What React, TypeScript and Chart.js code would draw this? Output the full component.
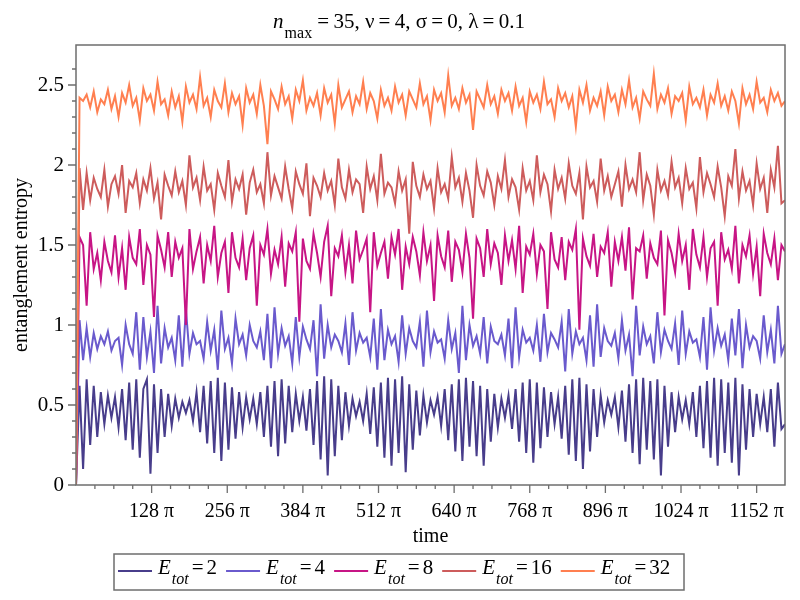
import React, { useEffect, useRef } from "react";
import { Chart, registerables } from "chart.js";

Chart.register(...registerables);

// time axis is in units of pi; samples every TIME_STEP (pi units)
const TIME_STEP = 6;
const X_MIN = 0;
const X_MAX = 1200;
const X_TICK_STEP = 32;
const X_LABELED = [128, 256, 384, 512, 640, 768, 896, 1024, 1152];

const Y_MIN = 0;
const Y_MAX = 2.75;
const Y_TICK_STEP = 0.1;
const Y_LABELED = [0, 0.5, 1, 1.5, 2, 2.5];

const LEVELS = ["2", "4", "8", "16", "32"];
const COLORS = ["#483D8B", "#6A5ACD", "#C71585", "#CD5C5C", "#FF7F50"];

const E2 = [
  0, 0.62, 0.10, 0.66, 0.25, 0.62, 0.30, 0.58, 0.38, 0.56,
  0.42, 0.55, 0.36, 0.60, 0.28, 0.64, 0.22, 0.66, 0.17, 0.60,
  0.66, 0.07, 0.63, 0.20, 0.60, 0.30, 0.57, 0.37, 0.54, 0.42,
  0.52, 0.45, 0.53, 0.40, 0.58, 0.33, 0.62, 0.26, 0.65, 0.20,
  0.67, 0.15, 0.64, 0.22, 0.61, 0.29, 0.58, 0.36, 0.55, 0.41,
  0.54, 0.38, 0.58, 0.30, 0.62, 0.24, 0.65, 0.18, 0.66, 0.26,
  0.62, 0.33, 0.57, 0.40, 0.55, 0.34, 0.60, 0.25, 0.65, 0.16,
  0.68, 0.06, 0.66, 0.18, 0.62, 0.28, 0.58, 0.37, 0.54, 0.43,
  0.52, 0.40, 0.57, 0.32, 0.61, 0.24, 0.64, 0.17, 0.67, 0.12,
  0.66, 0.20, 0.68, 0.08, 0.63, 0.22, 0.59, 0.31, 0.56, 0.39,
  0.53, 0.44, 0.55, 0.37, 0.60, 0.28, 0.63, 0.21, 0.66, 0.15,
  0.67, 0.24, 0.65, 0.18, 0.62, 0.12, 0.60, 0.27, 0.57, 0.36,
  0.54, 0.42, 0.56, 0.35, 0.60, 0.27, 0.64, 0.20, 0.66, 0.14,
  0.64, 0.23, 0.61, 0.30, 0.58, 0.38, 0.55, 0.29, 0.62, 0.19,
  0.66, 0.15, 0.67, 0.10, 0.63, 0.21, 0.60, 0.30, 0.56, 0.39,
  0.53, 0.44, 0.55, 0.36, 0.59, 0.27, 0.63, 0.20, 0.66, 0.13,
  0.67, 0.22, 0.65, 0.16, 0.66, 0.06, 0.62, 0.24, 0.58, 0.33,
  0.55, 0.41, 0.53, 0.38, 0.58, 0.30, 0.62, 0.23, 0.65, 0.17,
  0.67, 0.12, 0.66, 0.20, 0.64, 0.14, 0.67, 0.06, 0.63, 0.22,
  0.60, 0.30, 0.57, 0.38, 0.55, 0.33, 0.60, 0.24, 0.64, 0.35,
  0.38,
];

const E4 = [
  0, 1.03, 0.78, 0.98, 0.80, 0.95, 0.85, 0.93, 0.88, 0.96,
  0.84, 0.90, 0.92, 0.75, 1.00, 0.88, 0.82, 1.08, 0.72, 1.05,
  0.80, 0.96, 0.70, 1.12, 0.76, 0.98, 0.86, 0.92, 0.78, 1.06,
  0.74, 1.10, 0.82, 0.95, 0.88, 0.90, 0.79, 1.02, 0.84, 0.97,
  0.72, 1.09, 0.85, 0.92, 0.76, 1.04, 0.88, 0.94, 0.81, 1.00,
  0.90, 0.86, 0.96, 0.78, 1.07, 0.73, 1.11, 0.82, 0.98, 0.87,
  0.93, 0.76, 1.05, 0.80, 0.99, 0.91, 0.85, 1.03, 0.68, 1.13,
  0.79, 1.00, 0.86, 0.94, 0.90, 0.83, 1.01, 0.75, 1.08, 0.84,
  0.95, 0.89, 0.92, 0.80, 1.04, 0.72, 1.10, 0.78, 0.97, 0.88,
  0.93, 0.77, 1.06, 0.82, 0.98, 0.90, 0.86, 1.02, 0.74, 1.09,
  0.83, 0.96, 0.89, 0.91, 0.79, 1.03, 0.85, 0.95, 0.70, 1.12,
  0.78, 1.00, 0.87, 0.93, 0.82, 1.05, 0.76, 0.99, 0.90, 0.88,
  0.94, 0.81, 1.04, 0.73, 1.11, 0.80, 0.97, 0.89, 0.92, 0.84,
  1.00, 0.77, 1.07, 0.83, 0.95, 0.91, 0.86, 1.02, 0.71, 1.10,
  0.82, 0.96, 0.88, 0.92, 0.78, 1.06, 0.74, 1.13, 0.80, 0.98,
  0.90, 0.87, 0.95, 0.79, 1.03, 0.84, 0.94, 0.68, 1.12, 0.81,
  0.99, 0.88, 0.93, 0.76, 1.08, 0.83, 0.97, 0.90, 0.85, 1.01,
  0.75, 1.09, 0.82, 0.96, 0.89, 0.91, 0.80, 1.05, 0.72, 1.11,
  0.84, 0.98, 0.87, 0.94, 0.78, 1.04, 0.81, 1.10, 0.73, 1.00,
  0.86, 0.93, 0.90, 0.79, 1.06, 0.83, 0.97, 0.76, 1.12, 0.82,
  0.88,
];

const E8 = [
  0, 1.55, 1.50, 1.12, 1.58, 1.35, 1.45, 1.28, 1.52, 1.40,
  1.33, 1.56, 1.30, 1.48, 1.22, 1.55, 1.42, 1.38, 1.60, 1.25,
  1.50, 1.44, 1.05, 1.56, 1.47, 1.36, 1.58, 1.30, 1.52, 1.42,
  1.48, 1.00, 1.60, 1.35, 1.46, 1.55, 1.26, 1.50, 1.40, 1.62,
  1.30, 1.45, 1.52, 1.20, 1.58, 1.42, 1.36, 1.54, 1.28, 1.48,
  1.56, 1.12, 1.50, 1.44, 1.60, 1.32, 1.47, 1.38, 1.55, 1.24,
  1.51, 1.46, 1.58, 1.02, 1.54, 1.40, 1.35, 1.57, 1.45, 1.30,
  1.52, 1.62, 1.18, 1.48, 1.43, 1.56, 1.33, 1.50, 1.26, 1.59,
  1.41, 1.47, 1.54, 1.08, 1.58, 1.37, 1.45, 1.52, 1.29, 1.55,
  1.44, 1.60, 1.22, 1.49, 1.38, 1.55, 1.46, 1.31, 1.58, 1.40,
  1.50, 1.15, 1.56, 1.43, 1.36, 1.59, 1.27, 1.52, 1.47, 1.33,
  1.57, 1.42, 1.04, 1.54, 1.48, 1.30, 1.60, 1.38, 1.51, 1.45,
  1.25, 1.56, 1.40, 1.53, 1.35, 1.62, 1.20, 1.49, 1.44, 1.57,
  1.32, 1.50, 1.46, 1.10, 1.58, 1.41, 1.36, 1.55, 1.28, 1.52,
  1.47, 1.60, 0.97, 1.54, 1.43, 1.37, 1.57, 1.30, 1.49, 1.45,
  1.58, 1.24, 1.52, 1.40, 1.55, 1.34, 1.61, 1.16, 1.48, 1.46,
  1.56, 1.29, 1.51, 1.42, 1.38, 1.59, 1.06, 1.53, 1.45, 1.33,
  1.57, 1.40, 1.50, 1.22, 1.60, 1.44, 1.36, 1.55, 1.30, 1.48,
  1.52, 1.12, 1.58, 1.41, 1.47, 1.35, 1.62, 1.26, 1.50, 1.43,
  1.56, 1.32, 1.49, 1.18, 1.57, 1.45, 1.38, 1.54, 1.28, 1.50,
  1.46,
];

const E16 = [
  0, 1.98, 1.72, 1.95, 1.78, 1.92, 1.85, 1.80, 1.97, 1.74,
  1.88, 1.93, 1.82, 2.00, 1.70, 1.90, 1.86, 1.95, 1.76, 1.91,
  1.84, 1.98, 1.79, 1.89, 1.66, 1.94, 1.87, 1.81, 1.96, 1.83,
  1.90, 1.75, 2.06, 1.86, 1.92, 1.78, 1.99, 1.84, 1.88, 1.72,
  1.95, 1.87, 1.80, 2.03, 1.77, 1.91, 1.85, 1.94, 1.69, 1.89,
  1.97, 1.83, 1.88, 1.76, 2.08, 1.81, 1.93, 1.86, 1.79, 1.99,
  1.85, 1.73, 1.96, 1.88, 1.82, 2.01, 1.68, 1.92, 1.87, 1.80,
  1.95, 1.84, 1.90, 1.75, 2.04, 1.86, 1.79, 1.97, 1.83, 1.91,
  1.88, 1.70, 1.99, 1.85, 1.93, 1.78, 2.07, 1.82, 1.89, 1.86,
  1.76, 1.96, 1.84, 1.91, 1.57, 2.02, 1.87, 1.80, 1.94, 1.85,
  1.90, 1.73, 1.98, 1.83, 1.88, 1.79, 2.05, 1.86, 1.92, 1.77,
  1.95, 1.84, 1.67, 2.00, 1.87, 1.81, 1.96, 1.89, 1.75, 1.93,
  1.85, 2.03, 1.80, 1.91, 1.86, 1.72, 1.98, 1.84, 1.90, 1.78,
  2.06, 1.83, 1.94, 1.88, 1.71, 1.97, 1.85, 1.92, 1.79, 2.01,
  1.87, 1.82, 1.95, 1.66, 1.99, 1.86, 1.90, 1.77, 2.04, 1.84,
  1.93, 1.80, 1.88, 1.96, 1.74, 2.00, 1.85, 1.91, 1.83, 2.08,
  1.78, 1.94, 1.87, 1.69, 1.97, 1.84, 1.90, 1.81, 2.02, 1.86,
  1.92, 1.76, 1.98, 1.85, 1.89, 1.73, 2.05, 1.83, 1.95, 1.88,
  1.80, 1.99, 1.86, 1.68, 1.93, 1.87, 2.10, 1.79, 1.96, 1.84,
  1.90, 1.75, 2.01, 1.85, 1.92, 1.70, 1.97, 1.86, 2.12, 1.76,
  1.78,
];

const E32 = [
  0, 2.42, 2.40, 2.44, 2.36, 2.46, 2.33, 2.41, 2.38, 2.47,
  2.35, 2.43, 2.30, 2.45, 2.39, 2.50, 2.37, 2.42, 2.28, 2.48,
  2.40, 2.44, 2.34, 2.52, 2.38, 2.41, 2.31, 2.46, 2.36, 2.43,
  2.27, 2.49, 2.39, 2.44, 2.35, 2.55, 2.37, 2.42, 2.30, 2.47,
  2.40, 2.36, 2.51, 2.33, 2.45, 2.38, 2.43, 2.25, 2.48, 2.39,
  2.44, 2.32, 2.50, 2.37, 2.13, 2.46, 2.41, 2.35, 2.49, 2.38,
  2.43, 2.29, 2.47, 2.40, 2.53, 2.34, 2.42, 2.37, 2.45, 2.31,
  2.48, 2.39, 2.44, 2.26, 2.50, 2.36, 2.41, 2.46, 2.33, 2.43,
  2.38, 2.52, 2.35, 2.45, 2.40, 2.29, 2.47, 2.37, 2.42, 2.34,
  2.49, 2.39, 2.44, 2.31, 2.46, 2.41, 2.36, 2.51, 2.38, 2.43,
  2.28, 2.47, 2.40, 2.45, 2.33, 2.56, 2.37, 2.42, 2.35, 2.48,
  2.39, 2.44, 2.22, 2.46, 2.41, 2.36, 2.50, 2.38, 2.43, 2.32,
  2.47, 2.40, 2.45, 2.34, 2.49, 2.37, 2.42, 2.27, 2.46, 2.39,
  2.44, 2.35, 2.52, 2.38, 2.41, 2.30, 2.48, 2.40, 2.45, 2.36,
  2.43, 2.24, 2.47, 2.39, 2.50, 2.34, 2.42, 2.37, 2.46, 2.31,
  2.49, 2.40, 2.44, 2.33, 2.47, 2.38, 2.53, 2.36, 2.42, 2.29,
  2.46, 2.41, 2.37, 2.57, 2.35, 2.44, 2.39, 2.48, 2.32, 2.43,
  2.40, 2.45, 2.28, 2.49, 2.38, 2.42, 2.36, 2.47, 2.31, 2.44,
  2.39, 2.51, 2.37, 2.43, 2.34, 2.46, 2.40, 2.26, 2.48, 2.38,
  2.44, 2.35, 2.52, 2.39, 2.42, 2.33, 2.47, 2.40, 2.45, 2.37,
  2.40,
];

const SERIES = [E2, E4, E8, E16, E32];

const FONT_FAMILY = '"Liberation Serif", "Times New Roman", Times, serif';
const AXIS_GRAY = "#6e6e6e";

type Seg = { text: string; size: number; italic?: boolean; dy?: number; gap?: number };

function richWidth(ctx: CanvasRenderingContext2D, segs: Seg[]) {
  let w = 0;
  for (const s of segs) {
    ctx.font = `${s.italic ? "italic " : ""}${s.size}px ${FONT_FAMILY}`;
    w += (s.gap || 0) + ctx.measureText(s.text).width;
  }
  return w;
}

function drawRich(ctx: CanvasRenderingContext2D, segs: Seg[], x: number, y: number) {
  let cx = x;
  for (const s of segs) {
    cx += s.gap || 0;
    ctx.font = `${s.italic ? "italic " : ""}${s.size}px ${FONT_FAMILY}`;
    ctx.fillText(s.text, cx, y + (s.dy || 0));
    cx += ctx.measureText(s.text).width;
  }
  return cx - x;
}

const isLabeledY = (v: number) => Y_LABELED.some((m) => Math.abs(m - v) < 1e-6);

const decorPlugin = {
  id: "decor",
  afterDraw(chart: any) {
    const ctx: CanvasRenderingContext2D = chart.ctx;
    const { left, right, top, bottom } = chart.chartArea;
    ctx.save();

    // plot frame
    ctx.strokeStyle = AXIS_GRAY;
    ctx.lineWidth = 1.5;
    ctx.strokeRect(left, top, right - left, bottom - top);

    // tick marks (major longer than minor)
    const xs = chart.scales.x;
    ctx.beginPath();
    for (const t of xs.ticks) {
      if (t.value <= X_MIN || t.value >= X_MAX) continue;
      const px = xs.getPixelForValue(t.value);
      const len = X_LABELED.includes(t.value) ? 8 : 4;
      ctx.moveTo(px, bottom);
      ctx.lineTo(px, bottom + len);
    }
    const ys = chart.scales.y;
    for (const t of ys.ticks) {
      if (t.value > Y_MAX - 0.01) continue;
      const py = ys.getPixelForValue(t.value);
      const len = isLabeledY(t.value) ? 8 : 4;
      ctx.moveTo(left, py);
      ctx.lineTo(left - len, py);
    }
    ctx.lineWidth = 1.3;
    ctx.stroke();

    // title
    ctx.fillStyle = "#000";
    ctx.textBaseline = "alphabetic";
    ctx.textAlign = "left";
    const titleSegs: Seg[] = [
      { text: "n", size: 21, italic: true },
      { text: "max", size: 16, dy: 10, gap: 1 },
      { text: "\u2009=\u200935, \u03bd\u2009=\u20094, \u03c3\u2009=\u20090, \u03bb\u2009=\u20090.1", size: 21, gap: 1 },
    ];
    const tw = richWidth(ctx, titleSegs);
    drawRich(ctx, titleSegs, 399 - tw / 2, 28);

    // legend
    const boxX = 114, boxY = 554, boxW = 570, boxH = 36;
    ctx.strokeStyle = AXIS_GRAY;
    ctx.lineWidth = 1.5;
    ctx.strokeRect(boxX, boxY, boxW, boxH);
    let cx = boxX + 4;
    const lineY = 571;
    chart.data.datasets.forEach((ds: any, k: number) => {
      ctx.strokeStyle = ds.borderColor;
      ctx.lineWidth = 2;
      ctx.beginPath();
      ctx.moveTo(cx, lineY);
      ctx.lineTo(cx + 34, lineY);
      ctx.stroke();
      cx += 40;
      const segs: Seg[] = [
        { text: "E", size: 21, italic: true },
        { text: "tot", size: 16, italic: true, dy: 10, gap: 1 },
        { text: "=", size: 21, gap: 3 },
        { text: LEVELS[k], size: 21, gap: 3 },
      ];
      ctx.fillStyle = "#000";
      cx += drawRich(ctx, segs, cx, 574);
      cx += 9;
    });

    ctx.restore();
  },
};

export default function App() {
  const canvasRef = useRef<HTMLCanvasElement | null>(null);

  useEffect(() => {
    const canvas = canvasRef.current;
    if (!canvas) return;

    const datasets = SERIES.map((vals, k) => ({
      label: `E_tot = ${LEVELS[k]}`,
      data: vals.map((y, i) => ({ x: i * TIME_STEP, y })),
      borderColor: COLORS[k],
      backgroundColor: COLORS[k],
      borderWidth: 2,
      pointRadius: 0,
      tension: 0,
      fill: false,
      order: SERIES.length - k,
    }));

    const chart = new Chart(canvas, {
      type: "line",
      data: { datasets },
      options: {
        animation: false,
        responsive: false,
        devicePixelRatio: 1,
        layout: { padding: { left: 0, right: 8, top: 45, bottom: 51 } },
        plugins: {
          legend: { display: false },
          title: { display: false },
          tooltip: { enabled: false },
        },
        scales: {
          x: {
            type: "linear",
            min: X_MIN,
            max: X_MAX,
            grid: { display: false, drawTicks: false },
            border: { display: false },
            ticks: {
              stepSize: X_TICK_STEP,
              autoSkip: false,
              maxRotation: 0,
              padding: 15,
              color: "#000",
              font: { family: FONT_FAMILY, size: 20 },
              callback: (v: any) => (X_LABELED.includes(Number(v)) ? `${v} \u03c0` : ""),
            },
            title: {
              display: true,
              text: "time",
              color: "#000",
              font: { family: FONT_FAMILY, size: 20 },
              padding: { top: 0, bottom: 0 },
            },
            afterFit: (s: any) => {
              s.height = 64;
            },
          },
          y: {
            type: "linear",
            min: Y_MIN,
            max: Y_MAX,
            grid: { display: false, drawTicks: false },
            border: { display: false },
            ticks: {
              stepSize: Y_TICK_STEP,
              autoSkip: false,
              padding: 12,
              color: "#000",
              font: { family: FONT_FAMILY, size: 21 },
              callback: (v: any) => (isLabeledY(Number(v)) ? String(Math.round(Number(v) * 10) / 10) : ""),
            },
            title: {
              display: true,
              text: "entanglement entropy",
              color: "#000",
              font: { family: FONT_FAMILY, size: 20 },
              padding: { top: 10, bottom: 0 },
            },
            afterFit: (s: any) => {
              s.width = 76;
            },
          },
        },
      },
      plugins: [decorPlugin],
    } as any);

    return () => chart.destroy();
  }, []);

  return (
    <div style={{ position: "absolute", left: 0, top: 0, width: 800, height: 600, background: "#fff" }}>
      <canvas ref={canvasRef} width={800} height={600} style={{ width: 800, height: 600, display: "block" }} />
    </div>
  );
}
